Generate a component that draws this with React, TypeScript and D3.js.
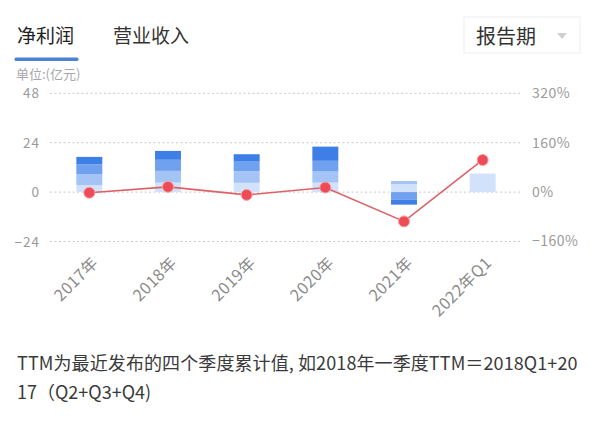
import React from 'react';
import * as d3 from 'd3';

const categories = ['2017年', '2018年', '2019年', '2020年', '2021年', '2022年Q1'];
const q1 = [3.4, 4.6, 4.5, 4.6, 3.8, 9.0];
const q2 = [5.2, 5.7, 5.7, 5.4, 1.6, 0];
const q3 = [4.9, 5.4, 4.6, 5.2, -3.6, 0];
const q4 = [3.6, 4.3, 3.6, 6.9, -2.5, 0];
const growth = [-2, 17, -9, 15, -95, 104];
const leftTicks = [-24, 0, 24, 48];
const rightTicks = [-160, 0, 160, 320];
const seriesKeys = ['q1', 'q2', 'q3', 'q4'];
const seriesColors = ['#d2e2fb', '#a5c4f6', '#70a1ef', '#3d7fe6'];

const W = 600;
const H = 426;
const FONT = '"Noto Sans CJK SC", "Noto Sans", sans-serif';

export default function App() {
  const x = d3.scaleBand<string>().domain(categories).range([50, 522]).padding(0);
  const yL = d3.scaleLinear().domain([-24, 48]).range([241.5, 93.3]);
  const yR = d3.scaleLinear().domain([-160, 320]).range([241.5, 93.3]);

  const rows = categories.map((c, i) => ({ cat: c, q1: q1[i], q2: q2[i], q3: q3[i], q4: q4[i] }));
  const stacked = d3.stack<any>().keys(seriesKeys).offset(d3.stackOffsetDiverging)(rows);

  const barW = x.bandwidth() * 0.33;
  const cx = (c: string) => (x(c) as number) + x.bandwidth() / 2;

  const line = d3
    .line<number>()
    .x((_, i) => cx(categories[i]))
    .y((d) => yR(d));

  return (
    <svg width={W} height={H} style={{ position: 'absolute', left: 0, top: 0, background: '#fff' }} fontFamily={FONT}>
      <rect x={0} y={0} width={W} height={H} fill="#ffffff" />
      {/* tabs */}
      <text x={17} y={43} fontSize={19} fill="#222">净利润</text>
      <text x={113} y={43} fontSize={19} fill="#333">营业收入</text>
      <rect x={14.5} y={57.5} width={64} height={3.5} rx={1.5} fill="#4a82d4" />
      <text x={16} y={78.5} fontSize={13} fill="#a8a8a8">单位:(亿元)</text>
      {/* dropdown */}
      <rect x={464} y={17} width={116} height={36} fill="#fff" stroke="#eeeeee" strokeWidth={1} />
      <text x={476} y={44} fontSize={20} fill="#333">报告期</text>
      <path d="M557,33 L567,33 L562,39 Z" fill="#cfcfcf" />

      {/* gridlines and axis labels */}
      {leftTicks.map((t) => (
        <g key={'l' + t}>
          <line x1={50} x2={522} y1={yL(t)} y2={yL(t)} stroke="#c8c8c8" strokeDasharray="2,2.5" strokeWidth={1} />
          <text x={40} y={yL(t)} dy="0.38em" textAnchor="end" fontSize={13.5} fill="#9a9a9a" letterSpacing={1}>
            {t < 0 ? '−' + Math.abs(t) : t}
          </text>
        </g>
      ))}
      {rightTicks.map((t) => (
        <text key={'r' + t} x={532} y={yR(t)} dy="0.35em" fontSize={14} fill="#9a9a9a" letterSpacing={0.5}>
          {(t < 0 ? '−' + Math.abs(t) : t) + '%'}
        </text>
      ))}

      {/* bars */}
      {stacked.map((s, si) => (
        <g key={s.key} fill={seriesColors[si]}>
          {s.map((d, i) => {
            const y0 = yL(d[0]);
            const y1 = yL(d[1]);
            const h = Math.abs(y0 - y1);
            if (h < 0.01) return null;
            return <rect key={i} x={cx(categories[i]) - barW / 2} y={Math.min(y0, y1)} width={barW} height={h} />;
          })}
        </g>
      ))}

      {/* growth line */}
      <path d={line(growth) || ''} fill="none" stroke="#dd6068" strokeWidth={1.6} />
      {growth.map((g, i) => (
        <circle key={i} cx={cx(categories[i])} cy={yR(g)} r={5.5} fill="#ef4b56" stroke="#f6a2a7" strokeWidth={1} />
      ))}

      {/* x labels */}
      {categories.map((c) => (
        <text
          key={c}
          transform={`translate(${cx(c) + 2},${256}) rotate(-45)`}
          textAnchor="end"
          dy="0.7em"
          fontSize={16}
          fill="#8a8a8a"
          letterSpacing={0.5}
        >
          {c}
        </text>
      ))}

      {/* footer */}
      <text x={17} y={370} fontSize={18} fill="#3a3a3a" letterSpacing={0.1}>TTM为最近发布的四个季度累计值, 如2018年一季度TTM＝2018Q1+20</text>
      <text x={17} y={399} fontSize={18} fill="#3a3a3a">17（Q2+Q3+Q4)</text>
    </svg>
  );
}
